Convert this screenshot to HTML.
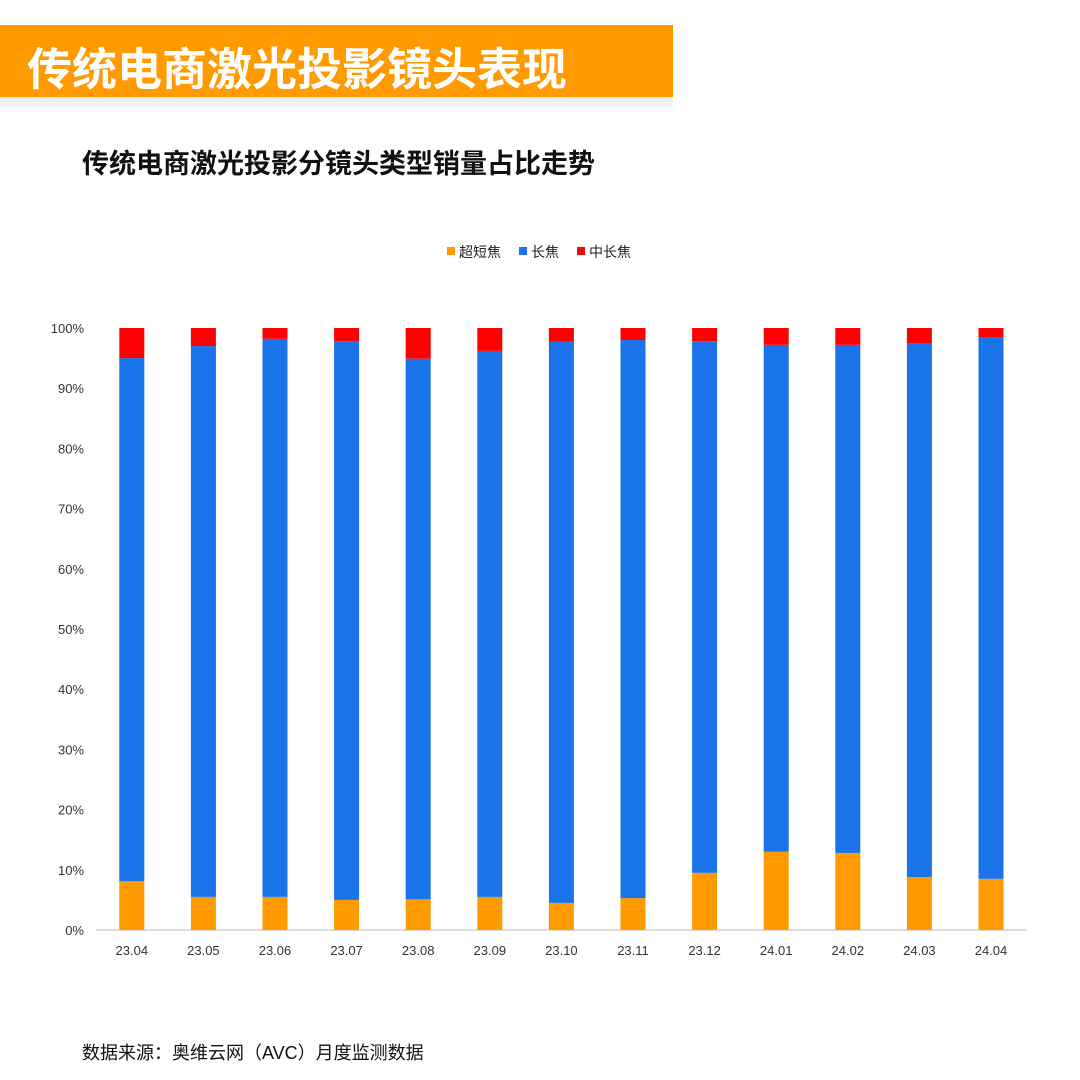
<!DOCTYPE html>
<html><head><meta charset="utf-8"><style>
body{margin:0;width:1080px;height:1080px;background:#fff;font-family:"Liberation Sans","Noto Sans CJK SC",sans-serif;position:relative;overflow:hidden}
.hdr{position:absolute;left:0;top:25px;width:673px;height:72px;background:#ff9a00}
.hdrsh{position:absolute;left:0;top:97px;width:673px;height:10px;background:#f0f0f0}
.hdr span{position:absolute;left:27px;top:8px;font-size:45px;color:#fff;font-weight:bold;white-space:nowrap}
.t{position:absolute;left:82px;top:142px;font-size:27px;font-weight:bold;color:#111}
.src{position:absolute;left:82px;top:1039px;font-size:18px;color:#111}
</style></head><body>
<div class="hdr"><span>传统电商激光投影镜头表现</span></div>
<div class="hdrsh"></div>
<div class="t">传统电商激光投影分镜头类型销量占比走势</div>
<div class="src">数据来源：奥维云网（AVC）月度监测数据</div>
<svg id="c" width="1080" height="1080" style="position:absolute;left:0;top:0"></svg>
<script>
const categories=["23.04","23.05","23.06","23.07","23.08","23.09","23.10","23.11","23.12","24.01","24.02","24.03","24.04"];
const ultraShort=[8.1,5.5,5.5,5.0,5.1,5.5,4.5,5.3,9.5,13.0,12.8,8.8,8.5];
const longFocus=[86.9,91.5,92.7,92.8,89.8,90.7,93.2,92.7,88.3,84.2,84.4,88.7,90.0];
const midLong=[5.0,3.0,1.8,2.2,5.1,3.8,2.3,2.0,2.2,2.8,2.8,2.5,1.5];
const yTicks=[0,10,20,30,40,50,60,70,80,90,100];
const ns="http://www.w3.org/2000/svg",svg=document.getElementById('c');
const y0=930,y1=328,x0=96,step=71.6,bw=25;
const y=v=>y0-(y0-y1)*v/100, x=i=>x0+step*(i+0.5);
function mk(t,a){const e=document.createElementNS(ns,t);for(const k in a)e.setAttribute(k,a[k]);svg.appendChild(e);return e;}
yTicks.forEach(t=>{const e=mk('text',{x:84,y:y(t)+5,'text-anchor':'end','font-size':13,fill:'#333'});e.textContent=t+'%';

});
const ax=mk('line',{x1:x0,x2:x0+step*13,y1:y0,y2:y0,stroke:'#bbb'});


const cols=['#ff9a00','#1a73e8','#ff0000'],sers=[ultraShort,longFocus,midLong],nm=['ultra-short','long','mid-long'];
categories.forEach((c,i)=>{let acc=0;
sers.forEach((s,k)=>{const r=mk('rect',{x:x(i)-bw/2,y:y(acc+s[i]),width:bw,height:y(acc)-y(acc+s[i]),fill:cols[k]});

acc+=s[i];});
const l=mk('text',{x:x(i),y:955,'text-anchor':'middle','font-size':13,fill:'#333'});l.textContent=c;

});
const lg=[['超短焦',447],['长焦',519],['中长焦',577]];
lg.forEach((g,k)=>{const r=mk('rect',{x:g[1],y:247,width:8,height:8,fill:cols[k]});


const t=mk('text',{x:g[1]+12,y:257,'font-size':14,fill:'#222'});t.textContent=g[0];

});
</script>
</body></html>
